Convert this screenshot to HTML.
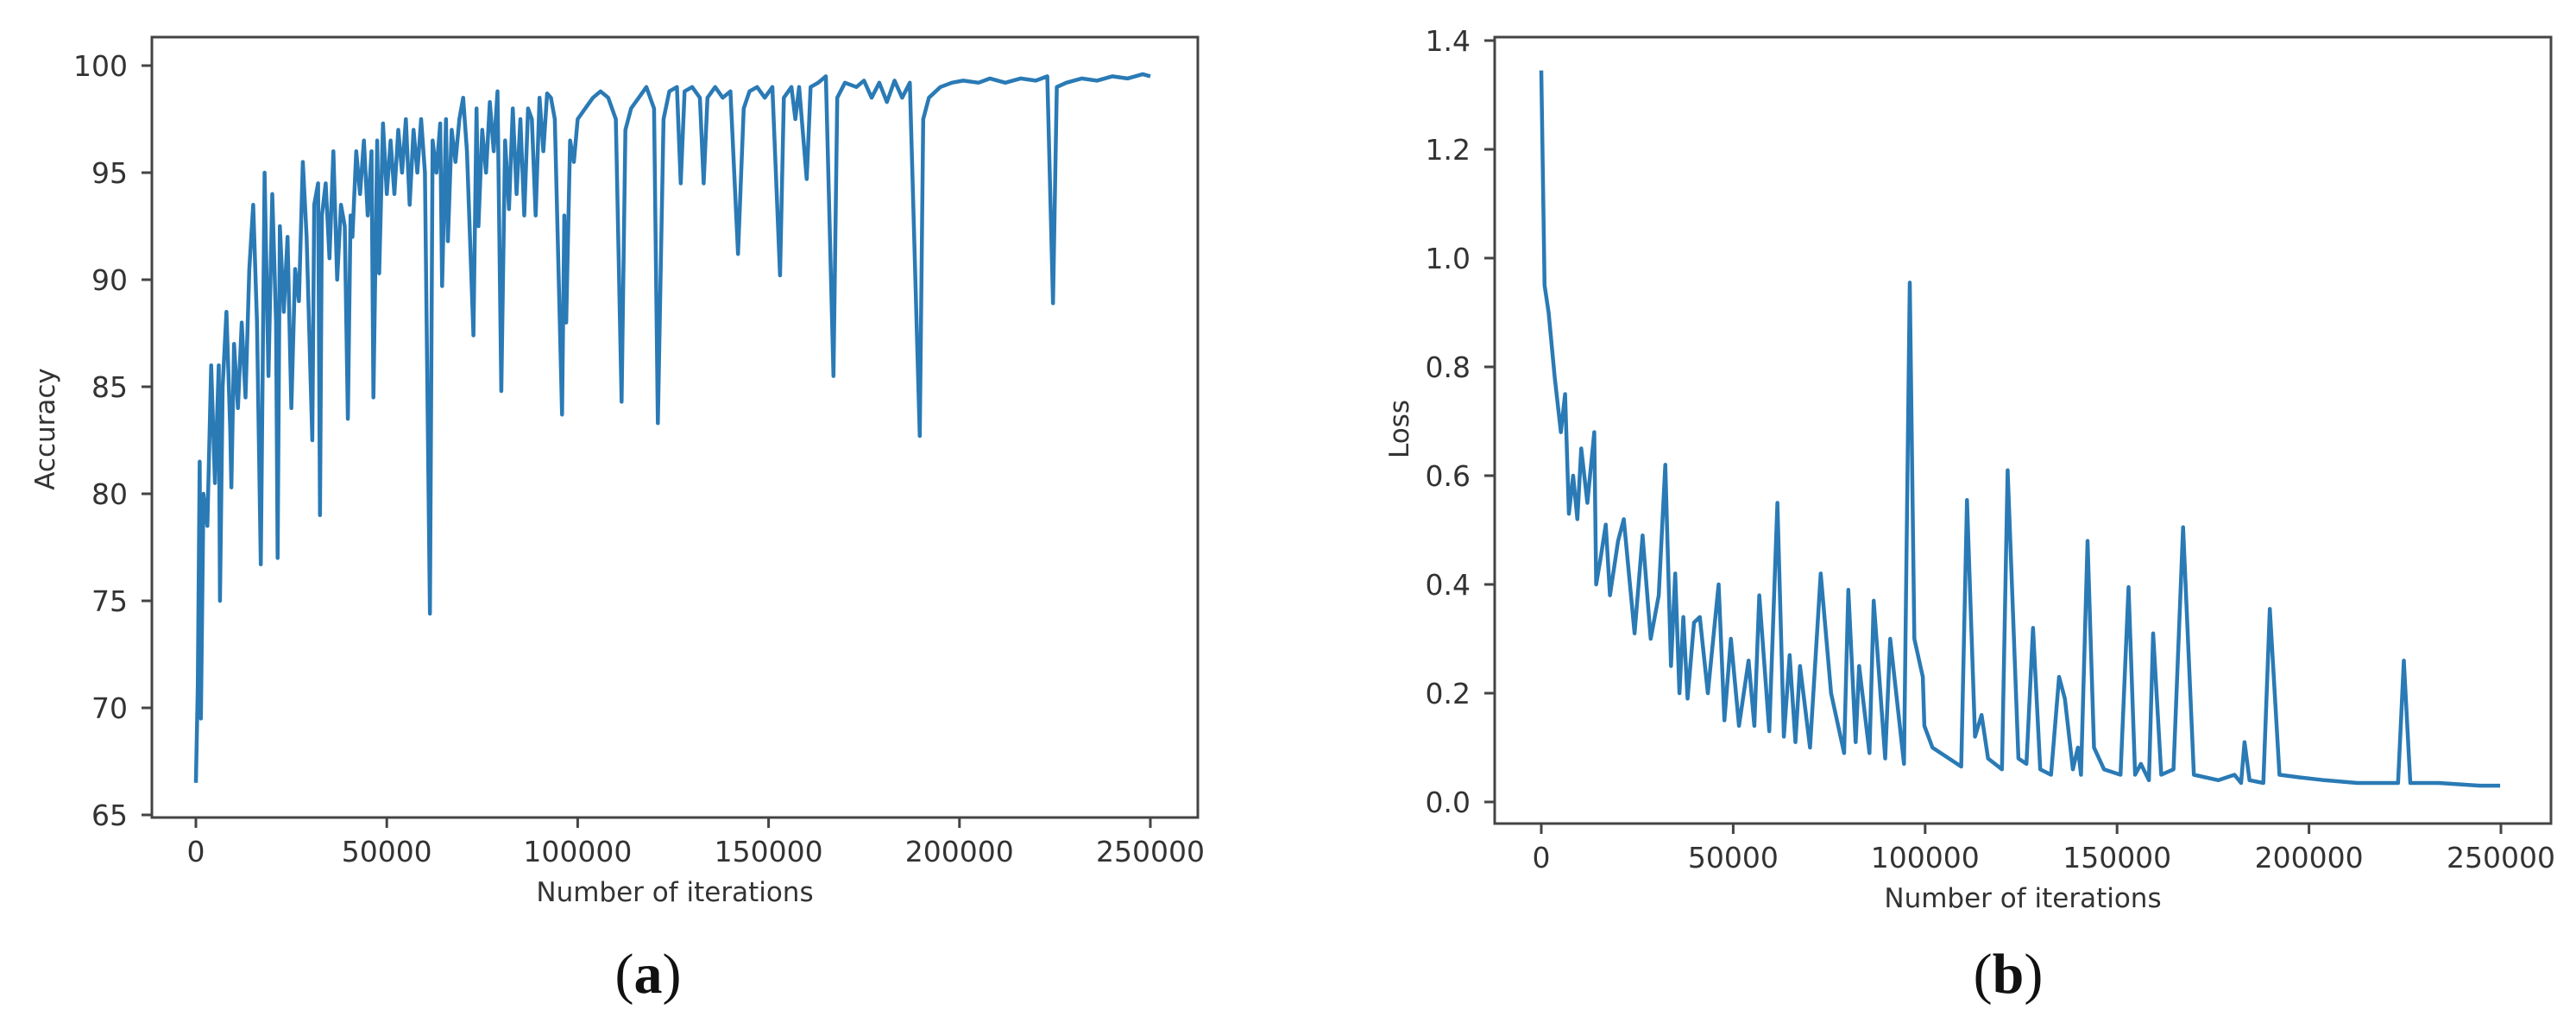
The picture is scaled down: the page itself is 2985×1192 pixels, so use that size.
<!DOCTYPE html>
<html><head><meta charset="utf-8">
<style>
html,body{margin:0;padding:0;background:#fff;}
svg{display:block;}
text{font-family:"DejaVu Sans","Liberation Sans",sans-serif;fill:#333;}
.cap{font-family:"Liberation Serif","DejaVu Serif",serif;fill:#111;}
</style></head>
<body>
<svg id="fig" width="2985" height="1192" viewBox="0 0 2985 1192" xmlns="http://www.w3.org/2000/svg">
  <g id="chartA"></g>
  <g id="chartB"></g>
  <text class="cap" x="751" y="1150" font-size="66" text-anchor="middle">(<tspan font-weight="bold">a</tspan>)</text>
  <text class="cap" x="2327" y="1150" font-size="66" text-anchor="middle">(<tspan font-weight="bold">b</tspan>)</text>
</svg>
<script>
// Accuracy series (iterations in thousands)
const accIter = [0,0.5,1,1.3,2,3,4,5,6,6.3,7,8,9,9.3,10,11,12,13,14,15,16,17,18,19,20,21,21.4,22,23,24,25,26,27,28,29,30.5,31,32,32.5,33,34,35,36,37,38,39,39.8,40.5,41,42,43,44,45,46,46.5,47.5,48,49,50,51,52,53,54,55,56,57,58,59,60,61.3,62,63,64,64.5,65.5,66,67,68,69,70,71,72.7,73.5,74,75,76,77,78,79,80,81,82,83,84,85,86,87,88,89,90,91,92,93,94,95.9,96.5,97,98,99,100,102,104,106,108,110,111.5,112.5,114,116,118,120,121,122.5,124,126,127,128,130,132,133,134,136,138,140,142,143.5,145,147,149,151,153,154,156,157,158,160,161,163,165,167,168,170,173,175,177,179,181,183,185,187,189.6,190.5,192,195,198,201,205,208,212,216,220,223,224.5,225.5,228,232,236,240,244,248,250];
const accValue = [66.5,71,81.5,69.5,80,78.5,86,80.5,86,75,85,88.5,83,80.3,87,84,88,84.5,90.5,93.5,88,76.7,95,85.5,94,88,77,92.5,88.5,92,84,90.5,89,95.5,92,82.5,93.5,94.5,79,93,94.5,91,96,90,93.5,92.5,83.5,93,92,96,94,96.5,93,96,84.5,96.5,90.3,97.3,94,96.5,94,97,95,97.5,93.5,97,95,97.5,95,74.4,96.5,95,97.3,89.7,97.5,91.8,97,95.5,97.5,98.5,96,87.4,98,92.5,97,95,98.3,96,98.8,84.8,96.5,93.3,98,94,97.5,93,98,97.5,93,98.5,96,98.7,98.5,97.5,83.7,93,88,96.5,95.5,97.5,98,98.5,98.8,98.5,97.5,84.3,97,98,98.5,99,98,83.3,97.5,98.8,99,94.5,98.8,99,98.5,94.5,98.5,99,98.5,98.8,91.2,98,98.8,99,98.5,99,90.2,98.5,99,97.5,99,94.7,99,99.2,99.5,85.5,98.5,99.2,99,99.3,98.5,99.2,98.3,99.3,98.5,99.2,82.7,97.5,98.5,99,99.2,99.3,99.2,99.4,99.2,99.4,99.3,99.5,88.9,99,99.2,99.4,99.3,99.5,99.4,99.6,99.5];
const accTicks = [65,70,75,80,85,90,95,100];

// Loss series (iterations in thousands)
const lossIter = [0,0.85,1.9,3.5,5.1,6.2,7.2,8.3,9.4,10.4,12,13.8,14.3,15.5,16.8,17.9,20,21.5,24.3,26.4,28.5,30.6,32.3,33.8,34.9,36,37,38.1,39.8,41.3,43.4,46.2,47.7,49.4,51.5,54,55.5,56.8,59.4,61.5,63.2,64.7,66.2,67.4,70,72.8,75.5,78.9,80,81.9,82.8,85.5,86.6,89.6,90.9,94.5,96,97.2,99.4,99.8,101.9,106.2,109.4,110.9,113,114.7,116.4,120,121.5,124.3,126.4,128.1,130,132.8,134.9,136.4,138.5,139.8,140.6,142.3,144,146.6,150.9,153,154.7,156.2,158.3,159.4,161.5,164.7,167.2,170,176.4,180.6,182.3,183.2,184.5,188.1,189.8,192.3,197.7,204,212.6,223.2,224.7,226.4,233.8,244.5,249.8];
const lossValue = [1.345,0.95,0.9,0.78,0.68,0.75,0.53,0.6,0.52,0.65,0.55,0.68,0.4,0.45,0.51,0.38,0.48,0.52,0.31,0.49,0.3,0.38,0.62,0.25,0.42,0.2,0.34,0.19,0.33,0.34,0.2,0.4,0.15,0.3,0.14,0.26,0.14,0.38,0.13,0.55,0.12,0.27,0.11,0.25,0.1,0.42,0.2,0.09,0.39,0.11,0.25,0.09,0.37,0.08,0.3,0.07,0.955,0.3,0.23,0.14,0.1,0.08,0.065,0.555,0.12,0.16,0.08,0.06,0.61,0.08,0.07,0.32,0.06,0.05,0.23,0.19,0.06,0.1,0.05,0.48,0.1,0.06,0.05,0.395,0.05,0.07,0.04,0.31,0.05,0.06,0.505,0.05,0.04,0.05,0.035,0.11,0.04,0.035,0.355,0.05,0.045,0.04,0.035,0.035,0.26,0.035,0.035,0.03,0.03];
const lossTicks = [0.0,0.2,0.4,0.6,0.8,1.0,1.2,1.4];

const xTicks = [0,50000,100000,150000,200000,250000];

const NS = "http://www.w3.org/2000/svg";
function mk(tag, attrs, parent){
  const e = document.createElementNS(NS, tag);
  for (const k in attrs) e.setAttribute(k, attrs[k]);
  parent.appendChild(e);
  return e;
}

function drawChart(g, cfg){
  const xScale = v => cfg.x0 + (v - 0) / 250000 * (cfg.x250 - cfg.x0);
  const yScale = v => cfg.yLoPx + (v - cfg.yLo) / (cfg.yHi - cfg.yLo) * (cfg.yHiPx - cfg.yLoPx);

  let d = "";
  for (let i = 0; i < cfg.iters.length; i++){
    const px = xScale(cfg.iters[i] * 1000), py = yScale(cfg.vals[i]);
    d += (i ? "L" : "M") + px.toFixed(1) + "," + py.toFixed(1);
  }
  const line = mk("path", {d: d, fill: "none", stroke: "#2a7ab5", "stroke-width": 4.5, "stroke-linejoin": "round"}, g);
  
  

  const fr = mk("rect", {x: cfg.L, y: cfg.T, width: cfg.R - cfg.L, height: cfg.B - cfg.T, fill: "none", stroke: "#444", "stroke-width": 3}, g);
  
  

  xTicks.forEach(t => {
    const px = xScale(t);
    const tk = mk("line", {x1: px, x2: px, y1: cfg.B, y2: cfg.B + 12, stroke: "#444", "stroke-width": 3}, g);
    
    
    const tx = mk("text", {x: px, y: cfg.B + 51, "font-size": 33, "text-anchor": "middle"}, g);
    tx.textContent = String(t);
    
    
  });
  cfg.yTicks.forEach(t => {
    const py = yScale(t);
    const tk = mk("line", {x1: cfg.L - 12, x2: cfg.L, y1: py, y2: py, stroke: "#444", "stroke-width": 3}, g);
    
    
    const tx = mk("text", {x: cfg.L - 28, y: py + 12, "font-size": 33, "text-anchor": "end"}, g);
    tx.textContent = cfg.fmt(t);
    
    
  });
  const xt = mk("text", {x: (cfg.L + cfg.R) / 2, y: cfg.B + 97, "font-size": 31, "text-anchor": "middle"}, g);
  xt.textContent = "Number of iterations";
  
  
  const yt = mk("text", {x: 0, y: 0, "font-size": 31, "text-anchor": "middle", transform: "translate(" + cfg.ylabX + "," + cfg.ylabY + ") rotate(-90)"}, g);
  yt.textContent = cfg.ylab;
  
  
}

drawChart(document.getElementById("chartA"), {
  L: 176, R: 1388, T: 43, B: 947,
  x0: 227, x250: 1333,
  yLo: 65, yHi: 100, yLoPx: 944, yHiPx: 76,
  iters: accIter, vals: accValue, yTicks: accTicks,
  fmt: v => String(v), seriesName: "accuracy-line",
  ylab: "Accuracy", ylabX: 63, ylabY: 497
});
drawChart(document.getElementById("chartB"), {
  L: 1732, R: 2956, T: 43, B: 954,
  x0: 1786, x250: 2898,
  yLo: 0, yHi: 1.4, yLoPx: 929, yHiPx: 47,
  iters: lossIter, vals: lossValue, yTicks: lossTicks,
  fmt: v => v.toFixed(1), seriesName: "loss-line",
  ylab: "Loss", ylabX: 1632, ylabY: 497
});
</script>
</body></html>
